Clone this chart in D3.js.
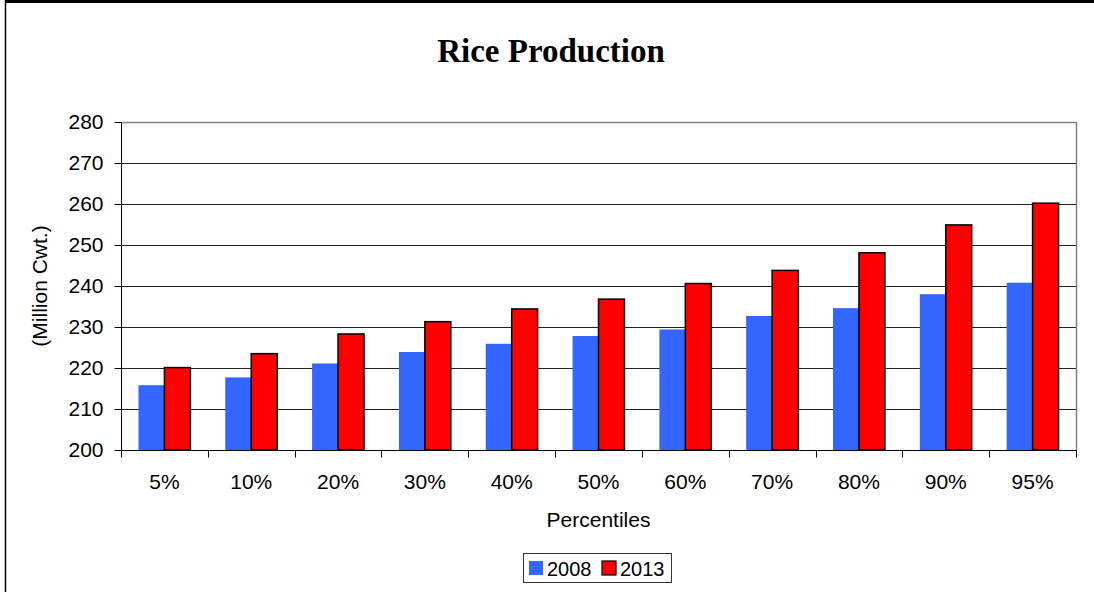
<!DOCTYPE html>
<html>
<head>
<meta charset="utf-8">
<script src="https://cdn.jsdelivr.net/npm/d3@7"></script>
<style>
  html, body { margin: 0; padding: 0; background: #fff; }
  svg { display: block; }
</style>
</head>
<body>
<svg id="chart" width="1094" height="592"></svg>
<script>
const categories = ["5%", "10%", "20%", "30%", "40%", "50%", "60%", "70%", "80%", "90%", "95%"];
const seriesNames = ["2008", "2013"];
const values2008 = [215.8, 217.7, 221.1, 223.9, 225.9, 227.8, 229.4, 232.7, 234.6, 238.0, 240.8];
const values2013 = [220.1, 223.5, 228.3, 231.3, 234.4, 236.8, 240.6, 243.8, 248.1, 254.9, 260.2];
const yTicks = [200, 210, 220, 230, 240, 250, 260, 270, 280];
const colors = ["#3366FF", "#FF0000"];

const svg = d3.select("#chart");
const W = 1094, H = 592;
const m = { left: 121, right: 1076, top: 122, bottom: 450 };

// outer chart border
svg.append("line").attr("x1", 5.5).attr("x2", 5.5).attr("y1", 0).attr("y2", H)
  .attr("stroke", "#000").attr("stroke-width", 1.5);
svg.append("line").attr("x1", 5).attr("x2", W).attr("y1", 1.5).attr("y2", 1.5)
  .attr("stroke", "#000").attr("stroke-width", 3);

const x0 = d3.scaleBand().domain(categories).range([m.left, m.right]).paddingInner(0).paddingOuter(0);
const x1 = d3.scaleBand().domain(seriesNames).range([0, x0.bandwidth()]).paddingInner(0).paddingOuter(0.673);
const y = d3.scaleLinear().domain([200, 280]).range([m.bottom, m.top]);

// gridlines
svg.append("g").selectAll("line").data(yTicks).join("line")
  .attr("x1", m.left).attr("x2", m.right)
  .attr("y1", d => Math.round(y(d)) + 0.5).attr("y2", d => Math.round(y(d)) + 0.5)
  .attr("stroke", "#222").attr("stroke-width", 1);

// plot border top/right gray
svg.append("line").attr("x1", m.left).attr("x2", m.right + 0.5)
  .attr("y1", Math.round(y(280)) + 0.5).attr("y2", Math.round(y(280)) + 0.5)
  .attr("stroke", "#808080").attr("stroke-width", 1.5);
svg.append("line").attr("x1", m.right + 0.5).attr("x2", m.right + 0.5)
  .attr("y1", m.top).attr("y2", m.bottom)
  .attr("stroke", "#808080").attr("stroke-width", 1.5);

// bars
const data = categories.map((c, i) => ({ c, vals: [values2008[i], values2013[i]] }));
const groups = svg.append("g").selectAll("g").data(data).join("g")
  .attr("transform", d => `translate(${x0(d.c)},0)`);
groups.selectAll("rect").data(d => d.vals.map((v, j) => ({ v, s: seriesNames[j], j })))
  .join("rect")
  .attr("x", d => x1(d.s))
  .attr("width", x1.bandwidth())
  .attr("y", d => y(d.v))
  .attr("height", d => y(200) - y(d.v))
  .attr("fill", d => colors[d.j])
  .attr("stroke", d => d.j === 1 ? "#000" : "none")
  .attr("stroke-width", 1.5);

const font = "'Liberation Sans', Arial, sans-serif";

// y axis
const yAxis = svg.append("g").attr("transform", `translate(${m.left + 0.5},0)`)
  .call(d3.axisLeft(y).tickValues(yTicks).tickSize(7).tickPadding(11).tickSizeOuter(0));
yAxis.select(".domain").attr("stroke", "#000").attr("d", `M0,${m.top}V${m.bottom + 7}`);
yAxis.selectAll(".tick line").attr("stroke", "#000");
yAxis.selectAll("text").attr("font-family", font).attr("font-size", 21).attr("fill", "#000");

// x axis
const xAxis = svg.append("g").attr("transform", `translate(0,${m.bottom + 0.5})`)
  .call(d3.axisBottom(x0).tickSize(0).tickPadding(24));
xAxis.select(".domain").attr("stroke", "#000").attr("d", `M${m.left},0H${m.right + 0.5}`);
xAxis.selectAll("text").attr("font-family", font).attr("font-size", 21).attr("fill", "#000");
// boundary ticks
const bounds = categories.map(c => x0(c)).concat([m.right]);
xAxis.append("g").selectAll("line").data(bounds).join("line")
  .attr("x1", d => Math.round(d) + 0.5).attr("x2", d => Math.round(d) + 0.5)
  .attr("y1", 0).attr("y2", 7).attr("stroke", "#000");

// title
svg.append("text").attr("x", 551).attr("y", 62).attr("text-anchor", "middle")
  .attr("font-family", "'Liberation Serif', 'Times New Roman', serif")
  .attr("font-weight", "bold").attr("font-size", 33).text("Rice Production");

// axis titles
svg.append("text").attr("x", (m.left + m.right) / 2).attr("y", 527).attr("text-anchor", "middle")
  .attr("font-family", font).attr("font-size", 21).text("Percentiles");
svg.append("text")
  .attr("transform", `translate(47,${(m.top + m.bottom) / 2}) rotate(-90)`)
  .attr("text-anchor", "middle")
  .attr("font-family", font).attr("font-size", 21).text("(Million Cwt.)");

// legend
const lg = svg.append("g");
lg.append("rect").attr("x", 523.5).attr("y", 553.5).attr("width", 148).attr("height", 29)
  .attr("fill", "#fff").attr("stroke", "#333").attr("stroke-width", 1);
const legendX = [529, 602];
seriesNames.forEach((s, i) => {
  lg.append("rect").attr("x", legendX[i]).attr("y", 561).attr("width", 14).attr("height", 14)
    .attr("fill", colors[i]).attr("stroke", i === 1 ? "#000" : "none").attr("stroke-width", 1.2);
  lg.append("text").attr("x", legendX[i] + 18).attr("y", 575.5)
    .attr("font-family", font).attr("font-size", 20).text(s);
});
</script>
</body>
</html>
